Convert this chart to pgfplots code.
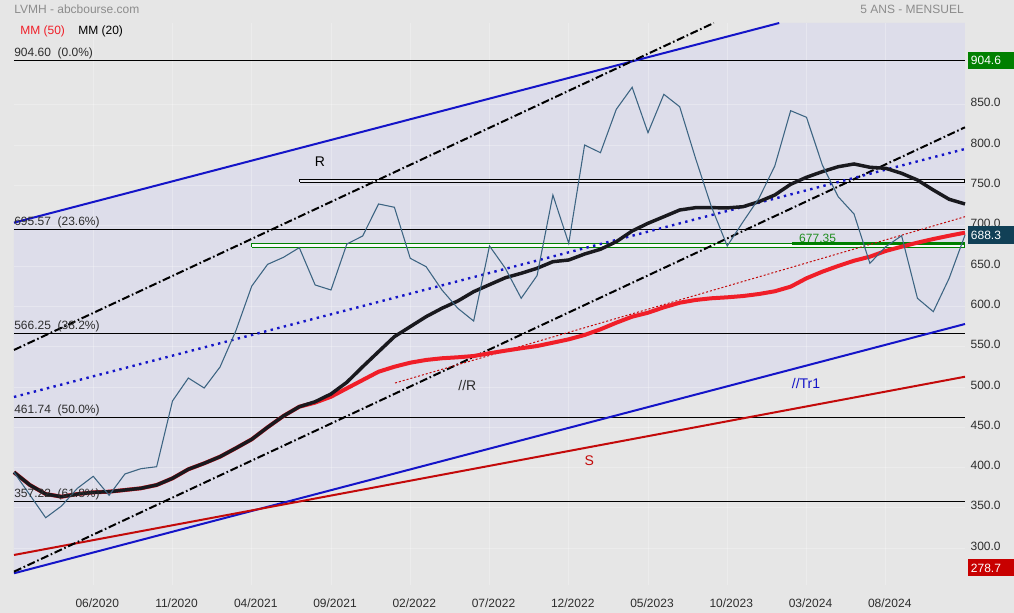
\documentclass[border=0pt]{standalone}
\usepackage{pgfplots}
\pgfplotsset{compat=1.18}
\usepackage{fontspec}
\setmainfont{Liberation Sans}
\definecolor{bg}{RGB}{230,230,230}
\definecolor{lav}{RGB}{221,221,234}
\definecolor{pricec}{RGB}{60,100,130}
\definecolor{mm50}{RGB}{240,30,40}
\definecolor{mm20}{RGB}{25,25,30}
\definecolor{chblue}{RGB}{20,20,200}
\definecolor{sred}{RGB}{195,10,10}
\definecolor{fibtxt}{RGB}{45,45,45}
\definecolor{titlegray}{RGB}{140,140,140}
\definecolor{boxgreen}{RGB}{0,128,0}
\definecolor{boxteal}{RGB}{17,64,86}
\definecolor{boxred}{RGB}{200,0,0}
\definecolor{lblgreen}{RGB}{30,140,30}

\pgfplotstableread{
k v
0 394.1
1 366
2 337.7
3 352.3
4 374.2
5 389.1
6 365.5
7 392
8 398.5
9 401
10 482.5
11 511
12 498.6
13 524.7
14 569.7
15 625
16 652
17 660.7
18 672.7
19 626.4
20 620.2
21 677.2
22 687.2
23 726.9
24 722.8
25 659.5
26 649.1
27 620.2
28 597.5
29 581.7
30 674.8
31 647.1
32 609.9
33 638
34 738
35 678.1
36 800
37 790.5
38 844.3
39 871.6
40 815.3
41 862.9
42 847.5
43 783.5
44 723.5
45 674.8
46 704.9
47 733.9
48 774
49 842.6
50 834.4
51 775.2
52 735.9
53 714.4
54 653.3
55 673.9
56 687.5
57 609.9
58 593.3
59 634.7
60 688.3
}\price

\pgfplotstableread{
k v
0 394.1
1 378.3
2 367.1
3 363.8
4 367.1
5 369.2
6 370
7 372.1
8 374.2
9 378.3
10 386.6
11 397.8
12 405.2
13 413.4
14 424
15 435
16 449.9
17 463.9
18 475.4
19 481.6
20 491.2
21 505.7
22 525
23 543.7
24 562.3
25 574.7
26 587.1
27 597.5
28 606.5
29 618.1
30 626.8
31 635.4
32 640.9
33 647.1
34 655.3
35 657.4
36 664.8
37 670.7
38 680.1
39 693.4
40 702.9
41 711.1
42 719.4
43 722.3
44 722.3
45 722
46 723.5
47 729.7
48 738
49 751.3
50 760
51 767
52 773.1
53 776.5
54 772.4
55 771.1
56 764.9
57 756.6
58 744.2
59 732.7
60 726.9
}\mmtwenty

\pgfplotstableread{
k v
0 394.1
1 378.3
2 367.1
3 363.8
4 367.1
5 369.2
6 370
7 372.1
8 374.2
9 378.3
10 386.6
11 397.8
12 405.2
13 413.4
14 424
15 435
16 449.9
17 463.9
18 475.4
19 480.5
20 487.8
21 498.2
22 508.5
23 518.8
24 525
25 530
26 533.4
27 535.5
28 536.7
29 538.3
30 541.7
31 544.9
32 547.9
33 550.7
34 554.8
35 559
36 564.4
37 571.4
38 579.6
39 587.1
40 592
41 598.7
42 604.4
43 607.8
44 609.9
45 611.1
46 612.7
47 615.2
48 618.6
49 624.3
50 634.7
51 642.9
52 650
53 656.5
54 661.5
55 668.6
56 673.9
57 678.9
58 683.4
59 687.5
60 691.3
}\mmfifty

\begin{document}
\fontsize{9}{11}\selectfont
\begin{tikzpicture}
\useasboundingbox (0,0) rectangle (760.5pt,459.75pt);
\fill[bg] (0,0) rectangle (760.5pt,459.75pt);
\begin{axis}[
  at={(10.5pt,21pt)}, anchor=south west,
  scale only axis, width=713.25pt, height=421.5pt,
  xmin=0, xmax=60, ymin=254.27, ymax=951.37,
  clip=false,
  axis line style={draw=none},
  major tick length=0pt,
  xtick={5,10,...,55},
  xticklabels={06/2020,11/2020,04/2021,09/2021,02/2022,07/2022,12/2022,05/2023,10/2023,03/2024,08/2024},
  ytick={300,350,...,850},
  yticklabel pos=right,
  yticklabel style={anchor=west, inner sep=0pt, xshift=4pt, yshift=1.5pt, text=fibtxt,
    /pgf/number format/.cd, fixed, fixed zerofill, precision=1, assume math mode=true},
  xticklabel style={anchor=center, inner sep=0pt, yshift=-13.5pt, xshift=3pt, text=fibtxt},
  grid=none,
]
% channel fill
\addplot[fill=lav, draw=none] coordinates {(0,268.8) (60,578) (60,951.37) (48.28,951.37) (0,703.7) (0,268.8)};

% grid
\pgfplotsinvokeforeach{300,350,...,850}{
  \addplot[white, opacity=0.28, line width=0.5pt] coordinates {(0,#1) (60,#1)};
}
\pgfplotsinvokeforeach{5,10,...,55}{
  \addplot[white, opacity=0.28, line width=0.5pt] coordinates {(#1,254.27) (#1,951.37)};
}

% fibonacci lines
\addplot[black, line width=0.75pt] coordinates {(0,904.6) (60,904.6)};
\addplot[black, line width=0.75pt] coordinates {(0,695.57) (60,695.57)};
\addplot[black, line width=0.75pt] coordinates {(0,566.25) (60,566.25)};
\addplot[black, line width=0.75pt] coordinates {(0,461.74) (60,461.74)};
\addplot[black, line width=0.75pt] coordinates {(0,357.22) (60,357.22)};

% R box
\addplot[black, line width=0.75pt, fill=lav!60!white] coordinates {(18.04,753.8) (60,753.8) (60,757.5) (18.04,757.5) (18.04,753.8)};
% green box
\addplot[boxgreen, line width=0.75pt, fill=lav!85!green!10!white] coordinates {(15.0,673.1) (60,673.1) (60,677.6) (15.0,677.6) (15.0,673.1)};
\addplot[boxgreen, line width=2pt] coordinates {(49.1,677.6) (60,677.6)};

% channel lines
\addplot[chblue, line width=1.5pt] coordinates {(0,703.7) (48.28,951.37)};
\addplot[chblue, line width=1.5pt] coordinates {(0,268.8) (60,578)};
\addplot[sred, line width=1.5pt] coordinates {(0,291.5) (60,512.6)};
% dash-dot lines
\addplot[black, line width=1.5pt, dash pattern=on 6pt off 2pt on 1.2pt off 2pt] coordinates {(0,270.8) (60,822)};
\addplot[black, line width=1.5pt, dash pattern=on 6pt off 2pt on 1.2pt off 2pt] coordinates {(0,545.8) (44.15,951.37)};
% dotted trend lines
\addplot[chblue, line width=1.8pt, dash pattern=on 1.8pt off 3.3pt] coordinates {(0,487.5) (60,795.1)};
\addplot[sred, line width=0.75pt, dash pattern=on 1.5pt off 1.5pt] coordinates {(24.04,504.8) (60,711.1)};

% moving averages and price
\addplot[mm50, line width=3pt] table[x=k, y=v] {\mmfifty};
\addplot[mm20, line width=2.6pt] table[x=k, y=v] {\mmtwenty};
\addplot[pricec, line width=0.8pt] table[x=k, y=v] {\price};

% fib labels
\node[anchor=south west, inner sep=0pt, yshift=1pt, text=fibtxt] at (axis cs:0,904.6) {904.60\ \ (0.0\%)};
\node[anchor=south west, inner sep=0pt, yshift=1pt, text=fibtxt] at (axis cs:0,695.57) {695.57\ \ (23.6\%)};
\node[anchor=south west, inner sep=0pt, yshift=1pt, text=fibtxt] at (axis cs:0,566.25) {566.25\ \ (38.2\%)};
\node[anchor=south west, inner sep=0pt, yshift=1pt, text=fibtxt] at (axis cs:0,461.74) {461.74\ \ (50.0\%)};
\node[anchor=south west, inner sep=0pt, yshift=1pt, text=fibtxt] at (axis cs:0,357.22) {357.22\ \ (61.8\%)};

% annotations
\node[text=black, font=\fontsize{10.5}{12}\selectfont] at (axis cs:19.3,779) {R};
\node[text=fibtxt, font=\fontsize{10.5}{12}\selectfont] at (axis cs:28.6,502.3) {//R};
\node[text=chblue, font=\fontsize{10.5}{12}\selectfont] at (axis cs:49.97,503.6) {//Tr1};
\node[text=sred, font=\fontsize{10.5}{12}\selectfont] at (axis cs:36.3,408) {S};
\node[text=lblgreen] at (axis cs:50.7,684.7) {677.35};

% right value boxes
\node[anchor=west, xshift=2.25pt, fill=boxgreen, text=white, inner xsep=2pt, inner ysep=0pt, text width=30.5pt, minimum height=12.75pt] at (axis cs:60,904.6) {904.6};
\node[anchor=west, xshift=2.25pt, fill=boxteal, text=white, inner xsep=2pt, inner ysep=0pt, text width=30.5pt, minimum height=13.5pt] at (axis cs:60,688.3) {688.3};
\node[anchor=west, xshift=2.25pt, yshift=-2pt, fill=boxred, text=white, inner xsep=2pt, inner ysep=0pt, text width=30.5pt, minimum height=12.75pt] at (axis cs:60,278.7) {278.7};

% titles and legend
\node[anchor=west, inner sep=0pt, text=titlegray, yshift=10.5pt] at (rel axis cs:0,1) {LVMH - abcbourse.com};
\node[anchor=east, inner sep=0pt, text=titlegray, yshift=10.5pt, xshift=-0.75pt] at (rel axis cs:1,1) {5 ANS - MENSUEL};
\node[anchor=west, inner sep=0pt, text=mm50, yshift=-6pt, xshift=4.5pt] at (rel axis cs:0,1) {MM (50)};
\node[anchor=west, inner sep=0pt, text=black, yshift=-6pt, xshift=48pt] at (rel axis cs:0,1) {MM (20)};
\end{axis}
\end{tikzpicture}
\end{document}
